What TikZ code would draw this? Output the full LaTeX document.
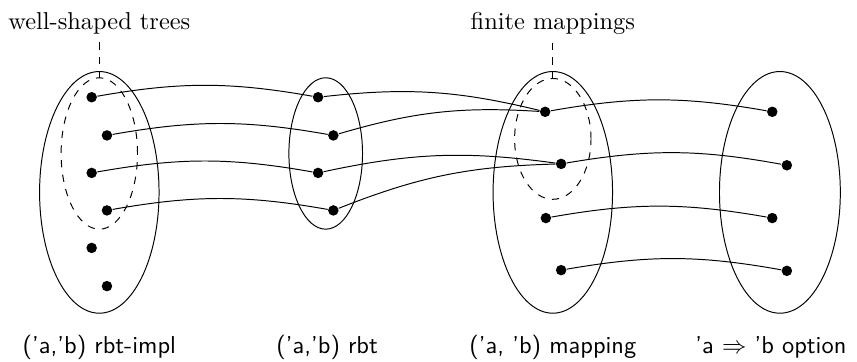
\documentclass[tikz,border=0pt]{standalone}
\usepackage{amsmath,amssymb}
\usepackage{tikz}
\usetikzlibrary{positioning}

\begin{document}
\begin{tikzpicture}[
    dot/.style={circle, fill=black, inner sep=0pt, minimum size=4.3pt},
    setlbl/.style={font=\sffamily},
    subset/.style={dashed},
    maparrow/.style={bend left=10},
]

\useasboundingbox (0,0) rectangle (12.34,5.2);

% Sets
\draw (1.43,2.43) ellipse [x radius=0.86, y radius=1.74];
\draw (4.69,2.99) ellipse [x radius=0.53, y radius=1.09];
\draw (7.96,2.43) ellipse [x radius=0.86, y radius=1.74];
\draw (11.23,2.43) ellipse [x radius=0.87, y radius=1.74];

% Subsets
\draw[subset] (1.43,2.99) ellipse [x radius=0.55, y radius=1.09];
\draw[subset] (7.96,3.20) ellipse [x radius=0.55, y radius=0.87];
\coordinate (wstop) at (1.43,4.08);
\coordinate (fmtop) at (7.96,4.08);

\node (wst) at (1.43,4.87) {well-shaped trees};
\node (fm) at (7.96,4.87) {finite mappings};
\draw[subset] (wst.south) -- (wstop);
\draw[subset] (fm.south) -- (fmtop);

% Elements
\foreach \n/\x/\y in {a1/1.32/3.80, a2/1.54/3.25, a3/1.32/2.71,
                      a4/1.54/2.17, a5/1.32/1.63, a6/1.54/1.08,
                      b1/4.58/3.80, b2/4.80/3.25, b3/4.58/2.71, b4/4.80/2.17,
                      c1/7.85/3.59, c2/8.08/2.84, c3/7.86/2.06, c4/8.08/1.31,
                      d1/11.12/3.59, d2/11.33/2.82, d3/11.12/2.06, d4/11.33/1.30}{
  \node[dot] (\n) at (\x,\y) {};
}

% Maps
\foreach \s/\t in {a1/b1, a2/b2, a3/b3, a4/b4,
                   b1/c1, b2/c1, b3/c2, b4/c2,
                   c1/d1, c2/d2, c3/d3, c4/d4}{
  \draw (\s) to[maparrow] (\t);
}

% Type names
\node[setlbl] (impl) at (1.43,0.2) {('a,'b) rbt-impl};
\node[setlbl] (rbt) at (4.71,0.2) {('a,'b) rbt};
\node[setlbl] (map) at (7.96,0.2) {('a, 'b) mapping};
\node[setlbl] (opt) at (11.10,0.2) {'a $\Rightarrow$ 'b option};

\end{tikzpicture}
\end{document}
